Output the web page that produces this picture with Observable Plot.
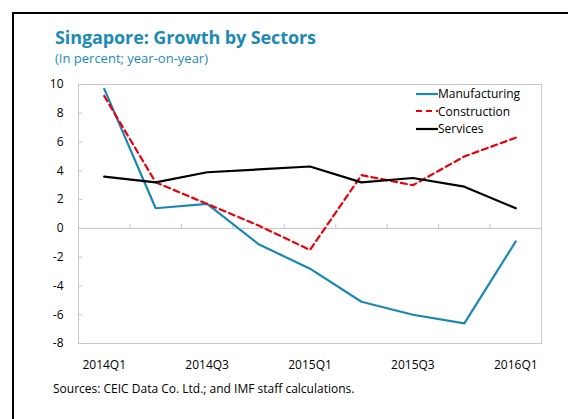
<!DOCTYPE html>
<html><head><meta charset="utf-8">
<script src="https://cdn.jsdelivr.net/npm/d3@7"></script>
<script src="https://cdn.jsdelivr.net/npm/@observablehq/plot@0.6"></script>
<style>
html,body{margin:0;padding:0;background:#fff;width:568px;height:419px;overflow:hidden;font-family:"Open Sans",sans-serif;}
#box{position:absolute;left:12px;top:12px;width:600px;height:460px;border:2px solid #000;box-sizing:border-box;}
#title{position:absolute;left:55px;top:26.5px;line-height:20px;font-size:18px;font-weight:bold;color:#1d8ab6;white-space:nowrap;letter-spacing:-0.1px;}
#sub{position:absolute;left:55px;top:50px;line-height:16px;font-size:13px;color:#1d8ab6;white-space:nowrap;}
#src{position:absolute;left:53px;top:381px;line-height:16px;font-size:12px;color:#000;white-space:nowrap;}
#chart{position:absolute;left:0;top:0;}
#legend{position:absolute;left:416px;top:85px;font-size:12px;line-height:17.5px;}
#legend div{display:flex;align-items:center;white-space:nowrap;}
</style></head>
<body>
<div id="box"></div>
<div id="title">Singapore: Growth by Sectors</div>
<div id="sub">(In percent; year-on-year)</div>
<div id="chart"></div>
<div id="legend"></div>
<div id="src">Sources: CEIC Data Co. Ltd.; and IMF staff calculations.</div>
<script>
const quarters = ["2014Q1","2014Q2","2014Q3","2014Q4","2015Q1","2015Q2","2015Q3","2015Q4","2016Q1"];
const manufacturing = [9.7, 1.4, 1.7, -1.1, -2.8, -5.1, -6.0, -6.6, -0.9];
const construction = [9.2, 3.2, 1.7, 0.2, -1.5, 3.7, 3.0, 5.0, 6.3];
const services = [3.6, 3.2, 3.9, 4.1, 4.3, 3.2, 3.5, 2.9, 1.4];
const seriesNames = ["Manufacturing","Construction","Services"];
const seriesColors = ["#1a87b5","#e8000b","#000000"];
const seriesDash = [null, "6,4", null];
const yTicks = [-8,-6,-4,-2,0,2,4,6,8,10];
const xLabelIdx = [0,2,4,6,8];

const seriesValues = [manufacturing, construction, services];
const data = [];
seriesValues.forEach((vals, s) => vals.forEach((v, i) => data.push({series: seriesNames[s], i, v})));
const boundaries = quarters.slice(1).map((q, i) => i + 0.5);

const marks = [
  Plot.frame({stroke: "#c9c9c9"}),
  Plot.ruleY([0], {stroke: "#c4c4c4"}),
  Plot.ruleX(boundaries, {x: d => d, y1: 0, y2: 0, insetTop: -4, stroke: "#c4c4c4"}),
  Plot.ruleY(yTicks, {y: d => d, x1: -0.5, x2: -0.5, insetRight: -4, stroke: "#c4c4c4"}),
  Plot.axisY({ticks: yTicks, tickSize: 0, tickPadding: 15, fontSize: 12, tickFormat: d => d}),
  Plot.axisX({ticks: xLabelIdx, tickSize: 0, tickPadding: 17, fontSize: 12, tickFormat: i => quarters[i]}),
];
seriesNames.forEach((name, s) => {
  marks.push(Plot.line(data.filter(d => d.series === name), {
    x: "i", y: "v", stroke: seriesColors[s], strokeWidth: 2.2,
    strokeDasharray: seriesDash[s], strokeLinejoin: "miter"
  }));
});

const chart = Plot.plot({
  width: 568, height: 419,
  marginLeft: 78, marginRight: 27, marginTop: 84, marginBottom: 76,
  style: {fontFamily: "'Open Sans', sans-serif", color: "#000", background: "transparent"},
  x: {type: "linear", domain: [-0.5, 8.5], label: null},
  y: {domain: [-8, 10], label: null},
  marks
});
document.getElementById("chart").appendChild(chart);

const leg = document.getElementById("legend");
seriesNames.forEach((name, s) => {
  const row = document.createElement("div");
  row.innerHTML = `<svg width="22" height="4"><line x1="0" y1="2" x2="22" y2="2" stroke="${seriesColors[s]}" stroke-width="2.2" ${seriesDash[s] ? `stroke-dasharray="${seriesDash[s]}"` : ""}/></svg><span>${name}</span>`;
  leg.appendChild(row);
});
</script>
</body></html>
